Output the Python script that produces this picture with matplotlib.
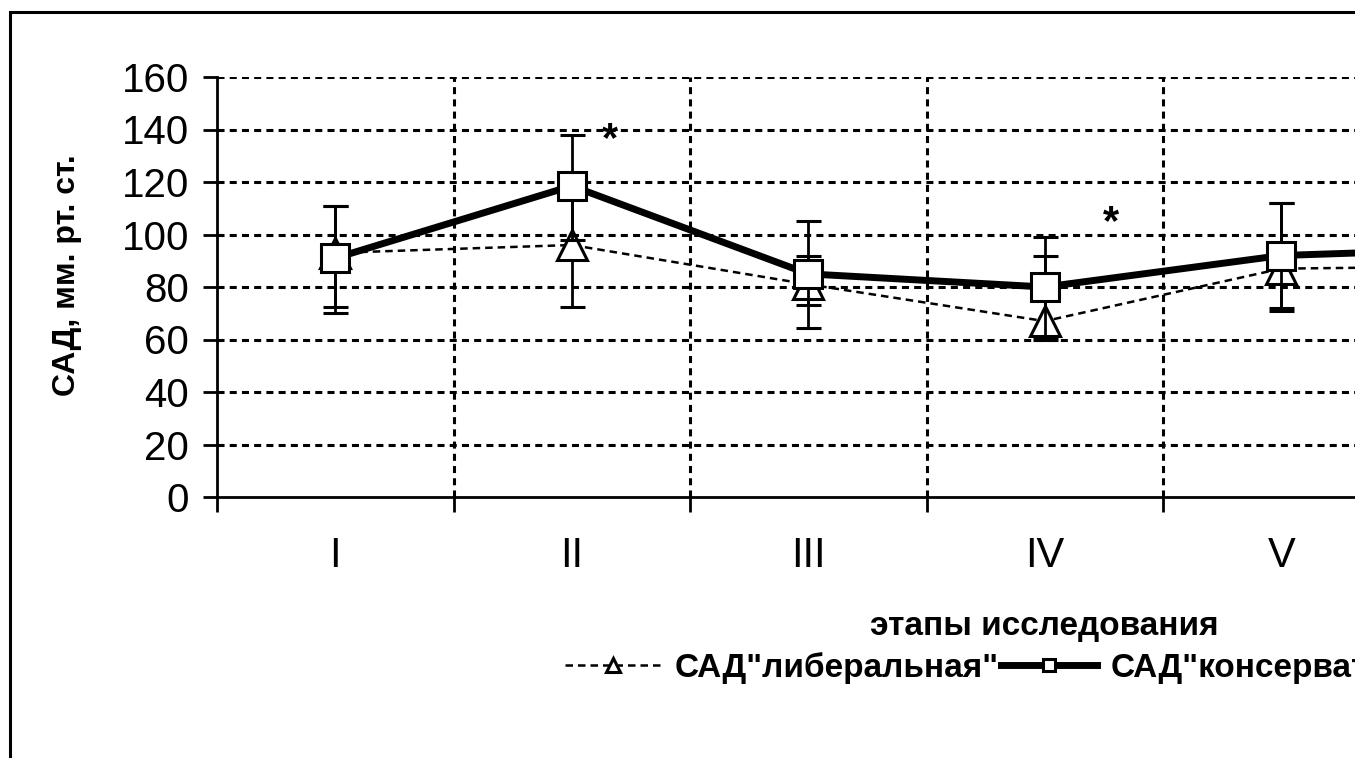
import matplotlib
matplotlib.use("Agg")
import matplotlib.pyplot as plt
from matplotlib.patches import Rectangle
from matplotlib.lines import Line2D
import numpy as np

plt.rcParams['font.family'] = ['Liberation Sans', 'DejaVu Sans']

# этапы исследования (шестой этап выходит за край рисунка)
stages = ["I", "II", "III", "IV", "V", "VI"]

# САД "либеральная"
lib_mean = [93, 96, 81, 67, 87, 88]
lib_err_lo = [20.5, 23.5, 8, 6, 16, 16]
lib_err_hi = [18, 23.5, 11, 25, 25, 20]

# САД "консервативная"
kons_mean = [91, 118.5, 85, 80, 92, 95]
kons_err_lo = [21, 20.5, 20.5, 20, 20, 20]
kons_err_hi = [20, 19.5, 20, 19, 20, 20]

# звездочки (этап, значение)
stars = [(2.16, 136), (4.28, 104.5)]

W, H = 1355, 758
fig = plt.figure(figsize=(W / 100, H / 100), dpi=100)

# рамка вокруг диаграммы (справа и снизу обрезана)
fig.patches.append(Rectangle((10 / W, -0.1), 1.2, 1 - 12 / H + 0.1,
                             transform=fig.transFigure, fill=False,
                             edgecolor="black", linewidth=2.2))

ax = fig.add_axes([217 / W, 1 - 497 / H, 6 * 236.5 / W, 420 / H])
x = np.arange(1, len(stages) + 1)

lib_style = dict(color="black", linestyle=(0, (3, 2)), linewidth=1.8, marker="^",
                 markerfacecolor="white", markeredgecolor="black", markeredgewidth=2.2)
kons_style = dict(color="black", linestyle="-", linewidth=5, marker="s",
                  markerfacecolor="white", markeredgecolor="black", markeredgewidth=2.2)

ax.errorbar(x, lib_mean, yerr=[lib_err_lo, lib_err_hi], markersize=21,
            ecolor="black", elinewidth=2, capsize=9, capthick=2.2, zorder=3, **lib_style)
ax.errorbar(x, kons_mean, yerr=[kons_err_lo, kons_err_hi], markersize=20,
            ecolor="black", elinewidth=2, capsize=9, capthick=2.2, zorder=4, **kons_style)

for sx, sy in stars:
    ax.text(sx, sy, "*", fontsize=30, fontweight="bold", ha="center", va="center")

ax.set_xlim(0.5, len(stages) + 0.5)
ax.set_ylim(0, 160)
ax.set_yticks(np.arange(0, 161, 20))
ax.set_xticks(np.arange(0.5, len(stages) + 1, 1))
ax.set_xticklabels([])
ax.set_xticks(x, minor=True)
ax.set_xticklabels(stages, minor=True)
ax.tick_params(axis="x", which="major", direction="out", length=11, width=2)
ax.tick_params(axis="x", which="minor", length=0, pad=28, labelsize=30)
ax.tick_params(axis="y", direction="out", length=10, width=2, pad=10, labelsize=29)

for v in range(20, 161, 20):
    ax.axhline(v, color="black", linewidth=2.2, linestyle=(0, (2.3, 1.7)), zorder=1)
for b in np.arange(1.5, len(stages), 1):
    ax.axvline(b, color="black", linewidth=2.2, linestyle=(0, (2.3, 1.7)), zorder=1)

ax.spines["top"].set_visible(False)
ax.spines["right"].set_visible(False)
ax.spines["left"].set_linewidth(2)
ax.spines["bottom"].set_linewidth(2)

fig.text(67 / W, 1 - 275 / H, "САД, мм. рт. ст.", rotation=90, fontsize=23,
         fontweight="bold", ha="center", va="center")
fig.text(1044 / W, 1 - 627 / H, "этапы исследования", fontsize=24,
         fontweight="bold", ha="center", va="center")

handles = [Line2D([], [], markersize=10, **lib_style),
           Line2D([], [], markersize=9, **kons_style)]
fig.legend(handles, ['САД"либеральная"', 'САД"консервативная"'],
           loc="center left", bbox_to_anchor=(565 / W, 1 - 668 / H), ncol=2,
           frameon=False, prop={"weight": "bold", "size": 24},
           handlelength=2.9, handletextpad=0.4, columnspacing=0.05,
           borderaxespad=0, borderpad=0)

fig.savefig("out.png", dpi=100)
